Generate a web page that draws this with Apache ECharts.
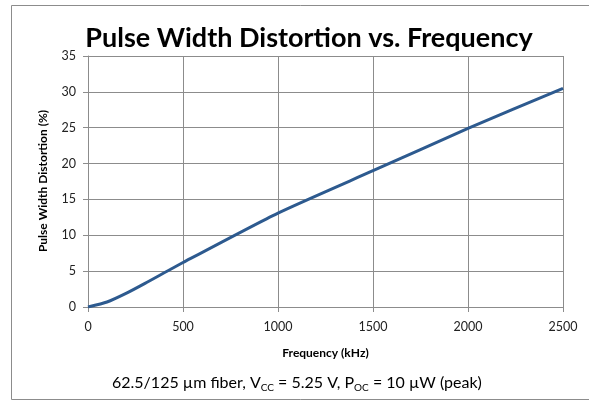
<!DOCTYPE html>
<html>
<head>
<meta charset="utf-8">
<script src="https://cdn.jsdelivr.net/npm/echarts@6/dist/echarts.min.js"></script>
<style>
  html, body { margin: 0; padding: 0; background: #fff; }
  #chart { width: 589px; height: 403px; }
</style>
</head>
<body>
<div id="chart"></div>
<script>
'use strict'
// frequency (kHz) and pulse width distortion (%)
var freq = [0, 100, 200, 300, 500, 1000, 1500, 2000, 2500];
var pwd = [0, 0.7, 1.9, 3.3, 6.2, 13.1, 19.0, 24.9, 30.5];
var xTicks = [0, 500, 1000, 1500, 2000, 2500];
var yTicks = [0, 5, 10, 15, 20, 25, 30, 35];

var FONT = 'Lato, "Open Sans", sans-serif';

var chart = echarts.init(document.getElementById('chart'));
var points = [];
for (var i = 0; i < freq.length; i++) {
    points.push([freq[i], pwd[i]]);
}
var option = {
    backgroundColor: '#fff',
    animation: false,
    title: {
        text: 'Pulse Width Distortion vs. Frequency',
        left: 304,
        top: 20,
        textAlign: 'center',
        textStyle: { fontFamily: FONT, fontSize: 27, fontWeight: 'bold', color: '#000' }
    },
    grid: { left: 88, top: 56, right: 26, bottom: 96 },
    xAxis: {
        type: 'value',
        min: xTicks[0],
        max: xTicks[xTicks.length - 1],
        interval: 500,
        name: 'Frequency (kHz)',
        nameLocation: 'middle',
        nameGap: 40,
        nameTextStyle: { fontFamily: FONT, fontSize: 12, fontWeight: 'bold', color: '#000' },
        axisLine: { lineStyle: { color: '#8c8c8c', width: 1 } },
        axisTick: { show: true, length: 5, lineStyle: { color: '#8c8c8c' } },
        axisLabel: {
            fontFamily: FONT, fontSize: 12.5, color: '#222', margin: 13,
            formatter: function (v) { return String(v); }
        },
        splitLine: { show: true, lineStyle: { color: '#8c8c8c', width: 1 } }
    },
    yAxis: {
        type: 'value',
        min: yTicks[0],
        max: yTicks[yTicks.length - 1],
        interval: 5,
        axisLine: { show: true, lineStyle: { color: '#8c8c8c', width: 1 } },
        axisTick: { show: true, length: 5, lineStyle: { color: '#8c8c8c' } },
        axisLabel: { fontFamily: FONT, fontSize: 12.5, color: '#222', margin: 12 },
        splitLine: { show: true, lineStyle: { color: '#8c8c8c', width: 1 } }
    },
    series: [{
        type: 'line',
        data: points,
        smooth: 0.2,
        showSymbol: false,
        lineStyle: { color: '#2d5a8f', width: 3 }
    }],
    graphic: [
        {
            type: 'rect',
            shape: { x: 11.5, y: 5.5, width: 600, height: 394 },
            style: { fill: 'none', stroke: '#8c8c8c', lineWidth: 1 },
            z: -1
        },
        {
            // y axis title
            type: 'text',
            x: 43,
            y: 181,
            rotation: Math.PI / 2,
            style: {
                text: 'Pulse Width Distortion (%)',
                fontFamily: FONT,
                fontSize: 12,
                fontWeight: 'bold',
                fill: '#000',
                align: 'center',
                verticalAlign: 'middle'
            }
        },
        {
            type: 'text',
            left: 112,
            top: 375,
            style: {
                text: '62.5/125 µm fiber, V{s|CC} = 5.25 V, P{s|OC} = 10 µW (peak)',
                fontFamily: FONT,
                fontSize: 16,
                fill: '#000',
                rich: {
                    s: { fontFamily: FONT, fontSize: 10, padding: [9, 0, 0, 0], fill: '#000' }
                }
            }
        }
    ]
};
chart.setOption(option);
</script>
</body>
</html>
